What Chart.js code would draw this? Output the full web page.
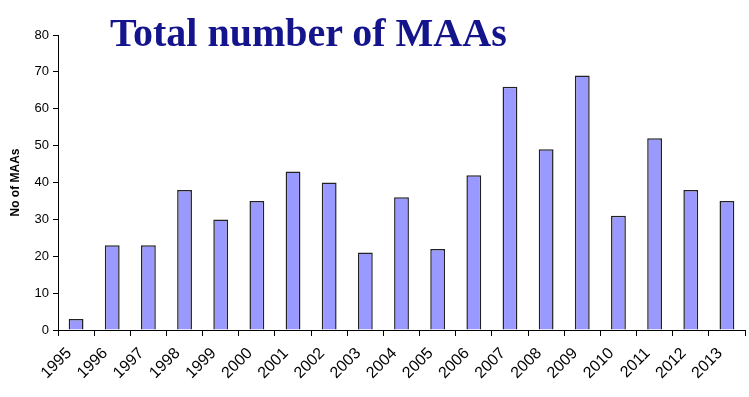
<!DOCTYPE html>
<html>
<head>
<meta charset="utf-8">
<script src="https://cdn.jsdelivr.net/npm/chart.js@4/dist/chart.umd.min.js"></script>
<style>
html,body{margin:0;padding:0;background:#fff;}
#wrap{position:relative;width:749px;height:397px;}
#title{position:absolute;left:110px;top:9px;font-family:"Liberation Serif","Times New Roman",serif;font-weight:bold;font-size:40px;color:#14148C;white-space:nowrap;pointer-events:none;}
</style>
</head>
<body>
<div id="wrap">
<canvas id="c" width="749" height="397"></canvas>
<div id="title">Total number of MAAs</div>
</div>
<script>
const years = ['1995','1996','1997','1998','1999','2000','2001','2002','2003','2004','2005','2006','2007','2008','2009','2010','2011','2012','2013'];
const maas = [3,23,23,38,30,35,43,40,21,36,22,42,66,49,69,31,52,38,35];
const yTicks = [0,10,20,30,40,50,60,70,80];

new Chart(document.getElementById('c'), {
  type: 'bar',
  data: {
    labels: years,
    datasets: [{
      data: maas,
      backgroundColor: '#9999FF',
      borderColor: '#222222',
      borderWidth: 1.5,
      barPercentage: 0.41,
      categoryPercentage: 1.0
    }]
  },
  options: {
    responsive: false,
    animation: false,
    events: [],
    layout: { padding: { top: 35, right: 4, left: 8, bottom: 0 } },
    plugins: { legend: { display: false }, tooltip: { enabled: false }, title: { display: false } },
    scales: {
      x: {
        grid: { display: true, drawOnChartArea: false, offset: true, tickLength: 6, color: '#000' },
        border: { color: '#000', width: 1 },
        ticks: { color: '#000', font: { family: 'Liberation Sans, Arial, sans-serif', size: 16 }, maxRotation: 45, minRotation: 45, autoSkip: false, padding: 8, labelOffset: -7 },
        afterFit: (s) => { s.height = 67; }
      },
      y: {
        min: 0, max: 80,
        afterBuildTicks: (s) => { s.ticks = yTicks.map(v => ({ value: v })); },
        grid: { display: true, drawOnChartArea: false, tickLength: 5, color: '#000' },
        border: { color: '#000', width: 1 },
        ticks: { color: '#000', font: { family: 'Liberation Sans, Arial, sans-serif', size: 13 }, padding: 4 },
        title: { display: true, text: 'No of MAAs', color: '#000', font: { family: 'Liberation Sans, Arial, sans-serif', size: 12, weight: 'bold' }, padding: { top: 0, bottom: 6 } },
        afterFit: (s) => { s.width = 50; }
      }
    }
  }
});
</script>
</body>
</html>
